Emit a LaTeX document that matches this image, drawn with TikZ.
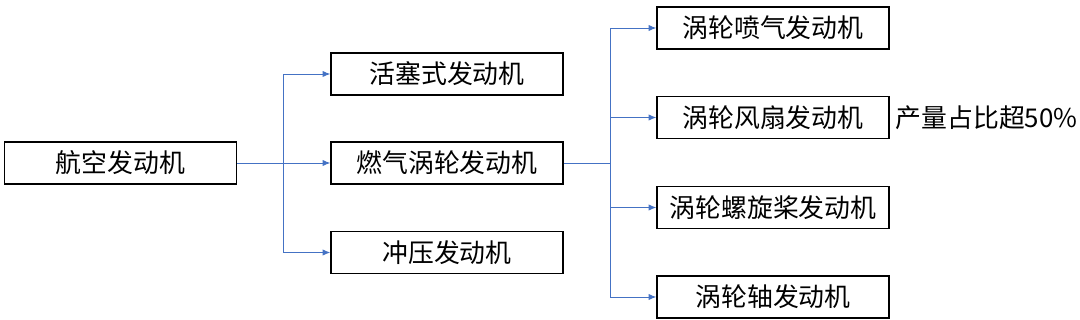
\documentclass[tikz,border=0pt]{standalone}
\usepackage{fontspec}
\setmainfont{Noto Sans CJK SC}
\usetikzlibrary{arrows.meta}
\definecolor{bleu}{HTML}{4472C4}
\begin{document}
\begin{tikzpicture}[x=0.025cm,y=-0.025cm]
			% Styles (MODIFIABLES)
			\tikzstyle{fleche}=[->,>={Latex[length=5.5pt,width=4.5pt]},draw=bleu,line width=0.7pt]
			\tikzstyle{noeud}=[draw,line width=0.9pt,fill=white,minimum width=5.8cm,minimum height=1.05cm,inner sep=0pt,font=\fontsize{18.4}{20}\selectfont]
			\tikzstyle{etiquette}=[font=\fontsize{18.4}{20}\selectfont]
			% Dimensions (MODIFIABLES)
			\def\NiveauA{120.5}
			\def\NiveauB{447}
			\def\NiveauC{773}
			\useasboundingbox (0,0) rectangle (1080,320);
			% Noeuds
			\node[noeud] (R) at (\NiveauA,163) {航空发动机};
			\node[noeud] (Ra) at (\NiveauB,74) {活塞式发动机};
			\node[noeud] (Rb) at (\NiveauB,163) {燃气涡轮发动机};
			\node[noeud] (Rc) at (\NiveauB,252.5) {冲压发动机};
			\node[noeud] (Rba) at (\NiveauC,28) {涡轮喷气发动机};
			\node[noeud] (Rbb) at (\NiveauC,117.5) {涡轮风扇发动机};
			\node[noeud] (Rbc) at (\NiveauC,207.5) {涡轮螺旋桨发动机};
			\node[noeud] (Rbd) at (\NiveauC,297) {涡轮轴发动机};
			\node[etiquette] (E) at (986.5,118) {产量占比超50\%};
			% Embranchements
			\coordinate (Ja) at (283,163);
			\coordinate (Jb) at (610,163);
			% Arcs
			\draw[fleche] (R.east)--(Rb.west);
			\draw[fleche] (Ja)|-(Ra.west);
			\draw[fleche] (Ja)|-(Rc.west);
			\draw[draw=bleu,line width=0.7pt] (Rb.east)--(Jb);
			\draw[fleche] (Jb)|-(Rba.west);
			\draw[fleche] (Jb)|-(Rbb.west);
			\draw[fleche] (Jb)|-(Rbc.west);
			\draw[fleche] (Jb)|-(Rbd.west);
\end{tikzpicture}
\end{document}
